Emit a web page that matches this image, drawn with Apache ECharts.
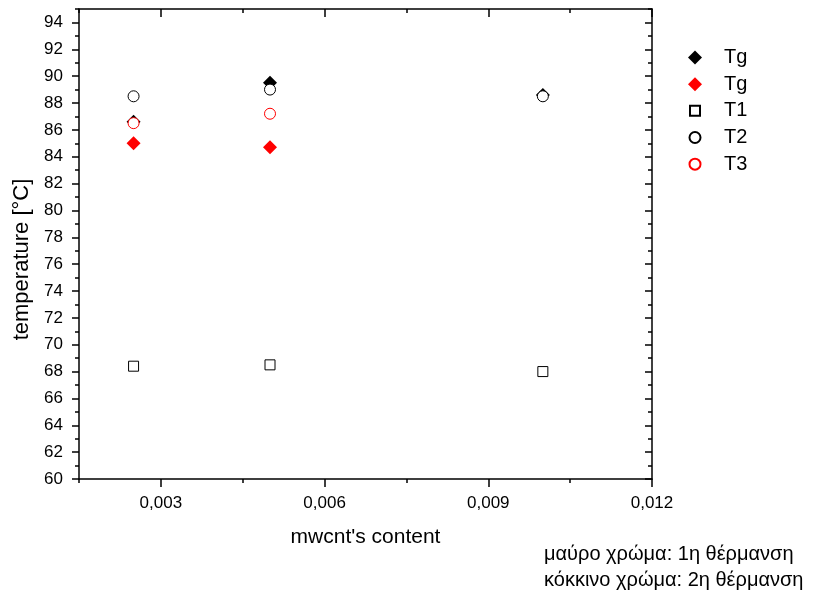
<!DOCTYPE html>
<html>
    <head>
        <meta charset="utf-8" />
        <title>temperature vs mwcnt's content</title>
        <script src="https://cdn.jsdelivr.net/npm/echarts@6.0.0/dist/echarts.min.js"></script>
        <script>
            // περιεκτικότητα σε mwcnt
            const contents = [0.0025, 0.005, 0.01];
            const tgFirst = [86.6, 89.5, 88.6];   // μαύρο: 1η θέρμανση
            const tgSecond = [85.0, 84.7];        // κόκκινο: 2η θέρμανση
            const t1 = [68.4, 68.5, 68.0];
            const t2 = [88.5, 89.0, 88.5];
            const t3 = [86.5, 87.2];
            const xMajorTicks = [0.003, 0.006, 0.009, 0.012];
            const yMajorTicks = [60, 62, 64, 66, 68, 70, 72, 74, 76, 78, 80, 82, 84, 86, 88, 90, 92, 94];

            function pairs(vals) {
                return vals.map(function (v, i) {
                    return [contents[i], v];
                });
            }

            const fontFam = "Liberation Sans, Arial, sans-serif";
            const line = {show: true, lineStyle: {color: "#000", width: 1.5}};

            // εικονίδια υπομνήματος με περιθώριο ώστε να βγαίνουν μικρότερα
            const squareIcon = "path://M0,0M14,14M2,2L12,2L12,12L2,12Z";
            const circleIcon = "path://M0,0M14,14M12.5,7A5.5,5.5,0,1,1,1.5,7A5.5,5.5,0,1,1,12.5,7Z";

            function xAxisBase(pos, inside, len, custom, showLine) {
                return {
                    type: "value",
                    position: pos,
                    min: 0.0015,
                    max: 0.012,
                    interval: 0.0015,
                    axisLine: showLine ? line : {show: false},
                    axisTick: {
                        show: true,
                        inside: inside,
                        length: len,
                        customValues: custom,
                        lineStyle: {color: "#000", width: 1.5},
                    },
                    axisLabel: {show: false},
                    splitLine: {show: false},
                };
            }

            function yAxisBase(pos, inside, len, custom, showLine) {
                return {
                    type: "value",
                    position: pos,
                    min: 60,
                    max: 95,
                    interval: 1,
                    axisLine: showLine ? line : {show: false},
                    axisTick: {
                        show: true,
                        inside: inside,
                        length: len,
                        customValues: custom,
                        lineStyle: {color: "#000", width: 1.5},
                    },
                    axisLabel: {show: false},
                    splitLine: {show: false},
                };
            }

            function criarGrafico() {
                const chart = echarts.init(document.getElementById("grafico"));

                const xBottom = xAxisBase("bottom", false, 4, undefined, true);
                xBottom.axisLabel = {
                    show: true,
                    interval: 0,
                    margin: 16,
                    color: "#000",
                    fontSize: 17,
                    fontFamily: fontFam,
                    formatter: function (v) {
                        const k = Math.round(v / 0.0015);
                        if (k % 2 !== 0) return "";
                        return v.toFixed(3).replace(".", ",");
                    },
                };
                xBottom.name = "mwcnt's content";
                xBottom.nameLocation = "middle";
                xBottom.nameGap = 48;
                xBottom.nameTextStyle = {color: "#000", fontSize: 21, fontFamily: fontFam};

                const yLeft = yAxisBase("left", false, 4, undefined, true);
                yLeft.axisLabel = {
                    show: true,
                    interval: 0,
                    margin: 16,
                    color: "#000",
                    fontSize: 17,
                    fontFamily: fontFam,
                    formatter: function (v) {
                        const r = Math.round(v);
                        if (r % 2 !== 0) return "";
                        return String(r);
                    },
                };
                yLeft.name = "temperature [°C]";
                yLeft.nameLocation = "middle";
                yLeft.nameGap = 46;
                yLeft.nameTextStyle = {
                    color: "#000",
                    fontSize: 22,
                    fontFamily: fontFam,
                    padding: [0, 31, 0, 0],
                };

                const option = {
                    animation: false,
                    backgroundColor: "#fff",
                    textStyle: {fontFamily: fontFam},
                    grid: {left: 79, right: 173, top: 9, bottom: 115},
                    legend: {
                        orient: "vertical",
                        left: 682,
                        top: 42.5,
                        itemWidth: 14,
                        itemHeight: 14,
                        itemGap: 6.67,
                        textStyle: {
                            color: "#000",
                            fontSize: 20,
                            fontFamily: fontFam,
                            rich: {s: {width: 17}},
                        },
                        data: [
                            {name: "Tg"},
                            {name: "Tg "},
                            {name: "T1", icon: squareIcon},
                            {name: "T2", icon: circleIcon},
                            {name: "T3", icon: circleIcon},
                        ],
                        formatter: function (name) {
                            return "{s|}" + name.trim();
                        },
                    },
                    xAxis: [
                        xBottom,
                        xAxisBase("bottom", false, 8, xMajorTicks, false),
                        xAxisBase("top", true, 4, undefined, true),
                        xAxisBase("top", true, 8, xMajorTicks, false),
                    ],
                    yAxis: [
                        yLeft,
                        yAxisBase("left", false, 7, yMajorTicks, false),
                        yAxisBase("right", true, 4, undefined, true),
                        yAxisBase("right", true, 7, yMajorTicks, false),
                    ],
                    series: [
                        {
                            name: "Tg",
                            type: "scatter",
                            symbol: "diamond",
                            symbolSize: 14,
                            itemStyle: {color: "#000", opacity: 1},
                            data: pairs(tgFirst),
                        },
                        {
                            name: "Tg ",
                            type: "scatter",
                            symbol: "diamond",
                            symbolSize: 14,
                            itemStyle: {color: "#ff0000", opacity: 1},
                            data: pairs(tgSecond),
                        },
                        {
                            name: "T1",
                            type: "scatter",
                            symbol: "rect",
                            symbolSize: 10,
                            itemStyle: {color: "#fff", borderColor: "#000", borderWidth: 1, opacity: 1},
                            data: pairs(t1),
                        },
                        {
                            name: "T2",
                            type: "scatter",
                            symbol: "circle",
                            symbolSize: 11,
                            itemStyle: {color: "#fff", borderColor: "#000", borderWidth: 1, opacity: 1},
                            data: pairs(t2),
                        },
                        {
                            name: "T3",
                            type: "scatter",
                            symbol: "circle",
                            symbolSize: 11,
                            itemStyle: {color: "#fff", borderColor: "#ff0000", borderWidth: 1, opacity: 1},
                            data: pairs(t3),
                        },
                    ],
                    graphic: [
                        {
                            type: "text",
                            left: 544,
                            top: 544,
                            style: {text: "μαύρο χρώμα: 1η θέρμανση", fill: "#000", fontSize: 20, fontFamily: fontFam},
                        },
                        {
                            type: "text",
                            left: 544,
                            top: 570,
                            style: {text: "κόκκινο χρώμα: 2η θέρμανση", fill: "#000", fontSize: 20, fontFamily: fontFam},
                        },
                    ],
                };

                chart.setOption(option);
            }

            window.onload = criarGrafico;
        </script>
    </head>
    <body style="margin: 0">
        <div id="grafico" style="width: 825px; height: 594px"></div>
    </body>
</html>
